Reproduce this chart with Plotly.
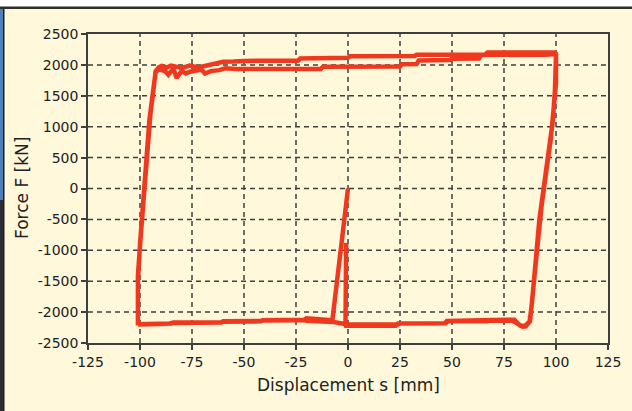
import plotly.graph_objects as go

# Hysteresis path (displacement in mm, force in kN), in test order
displacement = [
    0, -1.8, -3.5, -5, -7.1, -7.5,
    -20, -21, -41, -42, -60, -61, -84, -85, -101,
    -101, -101, -100, -98.5, -97, -95.5, -94, -92.5, -91, -88, -86.4, -84, -82.4, -80, -78, -76,
    -70.4, -68.8, -66, -63.1, -62, -59, -54, -13, -12, 25, 26, 33, 34, 49, 50, 63, 64, 95, 99.5,
    100, 99.5, 98.5, 96, 94, 92, 90.7, 89.5, 88.3, 87.3, 85.5, 83.5,
    82, 79, 68, 67, 48, 47, 25, 24, 0, -7, -20, -21, -41, -42, -60, -61, -85, -86, -101,
    -101, -101, -99.5, -98, -96.5, -95, -93.5, -92.5, -91, -89.6, -87, -85, -80, -76, -72, -68,
    -63, -60, -55, -50, -24, -23, 0, 1, 32, 33, 66, 67, 99.5,
    100, 100, 99, 97.5, 95, 93, 91.2, 89.8, 88.6, 87.5, 85.5, 84,
    82.5, 80, 76, 69, 68, 47.5, 46.5, 24, 23, 0, -1,
    -1.2, -0.9,
]
force = [
    0, -510, -995, -1480, -2015, -2130,
    -2100, -2125, -2130, -2145, -2150, -2165, -2170, -2185, -2195,
    -2210, -1500, -900, -200, 500, 1100, 1500, 1880, 1930, 1900, 1840, 1940, 1790, 1900, 1860, 1890,
    1926, 1861, 1900, 1910, 1915, 1945, 1935, 1935, 1970, 1975, 2010, 2015, 2070, 2080, 2100, 2105, 2160, 2165, 2175,
    2150, 1600, 1100, 500, 0, -500, -1000, -1500, -1900, -2150, -2215, -2225,
    -2200, -2140, -2135, -2150, -2150, -2180, -2185, -2200, -2200, -2160, -2140, -2130, -2135, -2150, -2155, -2170, -2175, -2190, -2200,
    -2215, -1400, -700, 0, 700, 1200, 1600, 1900, 1960, 1985, 1960, 1990, 1950, 1990, 1960, 1990,
    2020, 2050, 2055, 2065, 2068, 2105, 2115, 2140, 2145, 2165, 2170, 2200, 2200,
    2180, 1700, 1300, 800, 200, -300, -900, -1400, -1850, -2150, -2230, -2235,
    -2215, -2125, -2125, -2130, -2140, -2145, -2180, -2185, -2220, -2225, -2220,
    -2200, -880,
]

x_ticks = [-125, -100, -75, -50, -25, 0, 25, 50, 75, 100, 125]
y_ticks = [-2500, -2000, -1500, -1000, -500, 0, 500, 1000, 1500, 2000, 2500]

x_title = "Displacement s [mm]"
y_title = "Force F [kN]"

BG = "#FFF8DA"
RED = "#F0381F"
AX = "#3F3F3F"
FONT = "DejaVu Sans"
TXT = "#222222"

fig = go.Figure()
fig.add_trace(go.Scatter(
    x=displacement, y=force, mode="lines",
    line=dict(color=RED, width=4.5), hoverinfo="skip", showlegend=False,
))

# dashed grid lines
for xv in x_ticks[1:-1]:
    fig.add_shape(type="line", xref="x", yref="y", x0=xv, x1=xv, y0=-2500, y1=2500,
                  line=dict(color=AX, width=1.5, dash="5px,4px"), layer="below")
for yv in y_ticks[1:-1]:
    fig.add_shape(type="line", xref="x", yref="y", x0=-125, x1=125, y0=yv, y1=yv,
                  line=dict(color=AX, width=1.5, dash="5px,4px"), layer="below")

# outer picture frame (top white strip, left dark/blue strip)
W, H, L, R, T, B = 632, 411, 88, 24, 34, 68
pw, ph = W - L - R, H - T - B
def px(xp):
    return (xp - L) / pw
def py(yp):
    return 1 - (yp - T) / ph

fig.add_shape(type="rect", xref="paper", yref="paper", x0=px(0), x1=px(W), y0=py(0), y1=py(6.5),
              fillcolor="white", line=dict(width=0), layer="above")
fig.add_shape(type="rect", xref="paper", yref="paper", x0=px(0), x1=px(W), y0=py(6.5), y1=py(9),
              fillcolor="#2E2E2E", line=dict(width=0), layer="above")
fig.add_shape(type="rect", xref="paper", yref="paper", x0=px(0), x1=px(3), y0=py(9), y1=py(200),
              fillcolor="#4F7FB8", line=dict(width=0), layer="above")
fig.add_shape(type="rect", xref="paper", yref="paper", x0=px(0), x1=px(3), y0=py(200), y1=py(H),
              fillcolor="#2A2D33", line=dict(width=0), layer="above")
fig.add_shape(type="rect", xref="paper", yref="paper", x0=px(3), x1=px(4.5), y0=py(9), y1=py(H),
              fillcolor="#1E1E1E", line=dict(width=0), layer="above")

# axis titles
fig.add_annotation(text=x_title, xref="paper", yref="paper", x=px(348), y=py(385),
                   xanchor="center", yanchor="middle", showarrow=False,
                   font=dict(size=17, family=FONT, color=TXT))
fig.add_annotation(text=y_title, xref="paper", yref="paper", x=px(22), y=py(188),
                   xanchor="center", yanchor="middle", showarrow=False, textangle=-90,
                   font=dict(size=17, family=FONT, color=TXT))

fig.update_layout(
    width=W, height=H,
    margin=dict(l=L, r=R, t=T, b=B, pad=0, autoexpand=False),
    paper_bgcolor=BG, plot_bgcolor=BG,
    font=dict(family=FONT, color=TXT, size=14),
    showlegend=False,
)
fig.update_xaxes(
    range=[-125, 125], tickvals=x_ticks, ticktext=[str(v) for v in x_ticks],
    showgrid=False, zeroline=False, showline=True, mirror=True, automargin=False,
    linecolor=AX, linewidth=1.5, ticks="outside", ticklen=5, tickwidth=1.5, tickcolor=AX,
    tickfont=dict(size=14, family=FONT, color=TXT),
)
fig.update_yaxes(
    range=[-2500, 2500], tickvals=y_ticks, ticktext=[str(v) for v in y_ticks],
    showgrid=False, zeroline=False, showline=True, mirror=True, automargin=False,
    linecolor=AX, linewidth=1.5, ticks="outside", ticklen=5, tickwidth=1.5, tickcolor=AX,
    tickfont=dict(size=14, family=FONT, color=TXT),
)

fig.write_html(
    "out.html",
    config={"displayModeBar": False},
    post_script="document.body.style.margin='0';document.body.style.padding='0';",
)
